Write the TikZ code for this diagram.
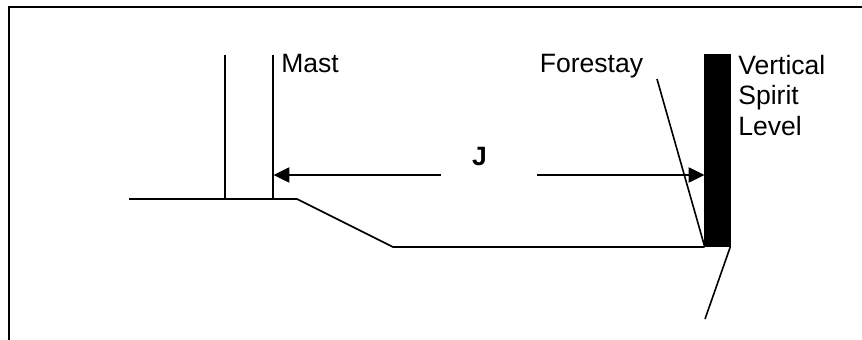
\documentclass[tikz,border=0pt]{standalone}
\usepackage{fontspec}
\setmainfont{Liberation Sans}
\usetikzlibrary{arrows.meta}

\tikzset{
  line/.style={line width=1.6*0.569pt},
  dim/.style={line, -{Triangle[length=9pt,width=8.6pt]}},
  label/.style={inner sep=0pt, anchor=base west, font=\fontsize{15.1}{17.6}\selectfont, align=left}
}

\begin{document}
\begin{tikzpicture}[x=0.02cm,y=-0.02cm]
  \useasboundingbox (0,0) rectangle (862,340);
  % outer frame, open at the bottom
  \coordinate (frameb) at (9,340);
  \coordinate (framel) at (9,7);
  \coordinate (framet) at (862,7);
  \draw[line width=1.8*0.569pt] (frameb) -- (framel) -- (framet);
  % deck
  \coordinate (deckl) at (129,199);
  \coordinate (deckm) at (297,199);
  \coordinate (deckn) at (393,247);
  \coordinate (deckr) at (704.5,247);
  \draw[line] (deckl) -- (deckm) -- (deckn) -- (deckr);
  % mast
  \coordinate (mastat) at (225,55);
  \coordinate (mastab) at (225,199);
  \coordinate (mastbt) at (273,55);
  \coordinate (mastbb) at (273,199);
  \draw[line] (mastat) -- (mastab);
  \draw[line] (mastbt) -- (mastbb);
  % spirit level
  \node (level) [draw, fill=black, line width=0pt, inner sep=0pt, minimum width=0.51cm, minimum height=3.86cm] at (717.5,150.5) {};
  % forestay and bow
  \coordinate (staytop) at (657,79);
  \coordinate (bowend) at (705,319);
  \draw[line] (staytop) -- (level.south west);
  \draw[line] (level.south east) -- (bowend);
  % J dimension
  \node (dimj) [inner sep=0pt, font=\fontsize{15.1}{17.6}\selectfont\bfseries] at (479.5,157) {J};
  \coordinate (dimjl) at (441,175);
  \coordinate (dimjr) at (537,175);
  \coordinate (dimjm) at (273.5,175);
  \coordinate (dimjs) at (704.5,175);
  \draw[dim] (dimjl) -- (dimjm);
  \draw[dim] (dimjr) -- (dimjs);
  % labels
  \node (mast) [label] at (281,73) {Mast};
  \node (forestay) [label] at (539.5,73) {Forestay};
  \node (spirit) [label, anchor=north west] at (738,54.5) {Vertical\\Spirit\\Level};
\end{tikzpicture}
\end{document}
